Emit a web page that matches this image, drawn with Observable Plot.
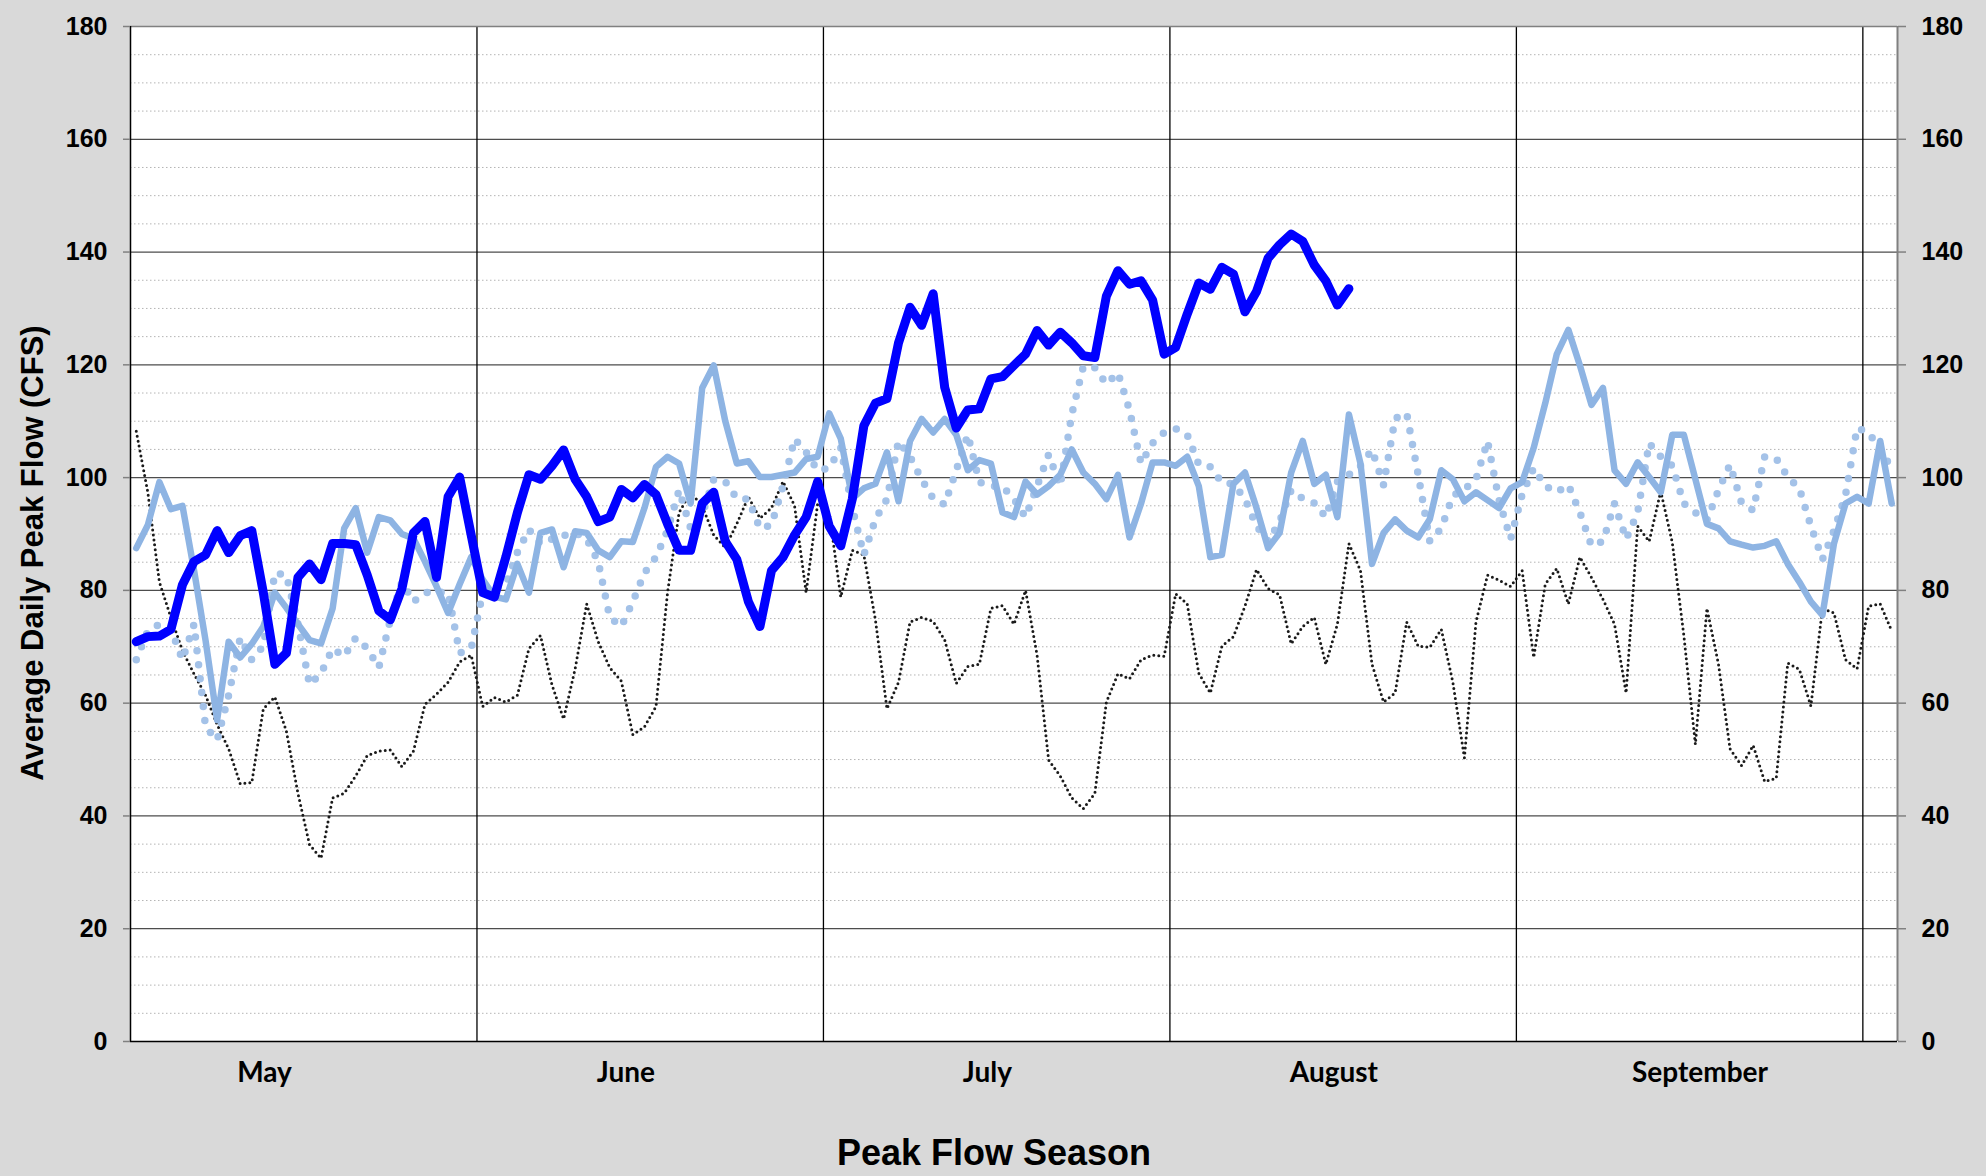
<!DOCTYPE html>
<html><head><meta charset="utf-8">
<script src="https://cdn.jsdelivr.net/npm/d3@7"></script>
<script src="https://cdn.jsdelivr.net/npm/@observablehq/plot@0.6"></script>
<style>
body{margin:0;background:#D9D9D9;width:1986px;height:1176px;position:relative;overflow:hidden;font-family:"Liberation Sans",Arial,sans-serif;}
#chart{position:absolute;left:0;top:0;}
.ytitle{position:absolute;left:33px;top:553px;transform:translate(-50%,-50%) rotate(-90deg);font-weight:bold;font-size:31px;white-space:nowrap;color:#000;}
.xtitle{position:absolute;left:0;width:1988px;top:1135px;text-align:center;font-weight:bold;font-size:36px;line-height:36px;color:#000;}
</style></head><body>
<div id="chart"></div>
<div class="ytitle">Average Daily Peak Flow (CFS)</div>
<div class="xtitle">Peak Flow Season</div>
<script>
// Number of daily categories on the x axis (day slots)
const dayCount = 153;
// Month labels and the day position they are centred on
const monthNames = ["May", "June", "July", "August", "September"];
const monthLabelDays = [11.6, 42.9, 74.2, 104.2, 135.9];
// Vertical gridlines every 30 day slots
const monthLines = [30, 60, 90, 120, 150];
// Y ticks
const majorTicks = [0, 20, 40, 60, 80, 100, 120, 140, 160, 180];
const minorTicks = d3.range(5, 180, 5).filter(d => d % 20 !== 0);

// Current season (thick dark blue)
const currentYear = [70.9,71.8,71.9,73.1,81.0,85.1,86.3,90.6,86.7,89.7,90.6,79.6,66.9,68.9,82.3,84.7,81.9,88.3,88.3,88.1,
82.7,76.4,74.8,80.3,90.2,92.2,82.3,96.6,100.1,89.8,79.6,78.8,85.9,93.8,100.5,99.7,102.1,104.9,99.7,96.6,
92.2,93.0,97.9,96.4,98.8,97.0,91.8,87.1,87.1,95.4,97.4,88.7,85.5,78.0,73.6,83.5,85.9,89.8,93.0,99.3,
91.4,87.9,96.2,109.2,113.2,114.0,123.9,130.2,127.0,132.6,116.0,108.8,112.0,112.2,117.5,117.9,119.9,121.9,126.1,123.5,
125.8,123.9,121.6,121.3,132.2,136.7,134.3,134.9,131.5,121.9,123.1,129.0,134.5,133.4,137.3,136.1,129.4,133.0,138.9,141.3,
143.2,141.9,137.7,134.9,130.6,133.5];

// Light blue solid series
const seriesSolid = [87.5,91.6,99.2,94.4,95.0,83.6,71.1,57.0,70.9,68.1,70.5,73.6,79.6,76.9,74.0,71.2,70.6,76.8,91.0,94.6,
86.7,93.0,92.4,90.0,89.2,85.1,80.7,76.0,81.1,85.9,81.9,78.9,78.4,84.7,79.6,90.2,90.8,84.1,90.5,90.2,
87.1,85.9,88.7,88.6,94.6,101.9,103.7,102.5,95.4,115.9,119.9,110.0,102.5,102.9,100.1,100.1,100.5,100.9,103.3,103.7,
111.4,106.9,96.3,98.1,98.9,104.5,95.8,106.5,110.4,108.0,110.4,107.6,101.3,103.1,102.5,93.8,93.0,99.3,97.0,98.5,
100.5,105.0,100.9,98.9,96.2,100.5,89.4,95.4,102.7,102.7,102.1,103.7,98.5,85.9,86.3,98.9,100.9,94.6,87.5,90.2,
100.9,106.5,98.9,100.5,93.0,111.2,102.5,84.7,90.2,92.6,90.6,89.4,92.6,101.3,99.7,95.8,97.4,96.0,94.6,98.1,
99.2,105.3,113.2,121.9,126.2,119.9,112.9,115.9,101.3,98.9,102.7,100.1,97.4,107.6,107.6,99.7,91.8,91.0,88.7,88.1,
87.6,87.9,88.7,84.7,81.5,78.0,75.6,88.3,95.4,96.6,95.4,106.5,95.4];

// Light blue round-dot series
const seriesDotted = [67.7,72.8,74.0,73.2,67.7,74.0,55.8,53.4,61.4,71.6,67.7,70.1,83.1,82.7,74.0,63.3,65.3,69.7,68.3,71.6,
69.7,66.3,74.8,81.5,78.0,79.6,79.7,79.6,68.9,69.7,79.6,80.3,81.1,86.7,90.8,88.3,89.1,89.7,90.2,89.1,
85.1,75.2,73.6,78.0,83.1,85.9,90.6,97.8,91.0,93.4,99.7,99.3,96.3,96.2,91.0,91.6,98.5,106.9,104.5,101.3,
101.7,105.3,94.6,86.3,92.6,96.2,106.5,103.7,99.7,96.3,95.2,101.3,107.6,99.2,98.5,98.4,96.2,93.0,98.5,104.1,
98.5,111.2,119.7,119.5,116.6,118.6,112.0,102.5,106.1,108.0,108.7,107.6,102.3,101.9,99.1,98.9,96.2,91.4,88.7,92.2,
97.8,96.3,95.5,93.0,99.3,100.5,102.1,104.9,98.7,110.5,111.4,100.5,88.7,91.0,96.8,97.9,99.7,106.5,96.0,89.1,
97.0,101.7,98.5,97.4,98.7,93.8,87.9,88.7,95.4,89.1,93.8,106.1,103.7,102.1,95.4,93.8,92.4,97.8,102.3,95.5,
94.2,103.7,103.4,100.1,98.1,91.4,85.5,90.6,96.9,108.8,108.0,104.9,101.7];

// Black dotted series
const seriesBlack = [108.2,97.4,81.5,75.2,69.3,65.2,61.4,56.2,51.9,45.7,45.9,59.0,61.1,55.0,44.0,34.9,32.5,43.2,44.0,47.1,
50.7,51.5,51.7,48.7,51.5,59.8,61.6,63.7,67.3,68.5,59.4,61.0,60.2,61.4,69.7,72.0,63.2,57.2,66.1,77.6,
70.9,66.3,63.9,54.4,55.8,59.4,79.6,93.8,97.4,95.0,89.8,87.6,91.8,96.6,92.8,94.6,99.3,95.0,79.6,95.4,
93.8,78.8,87.1,86.3,74.8,59.0,63.7,74.4,75.2,74.5,71.2,63.5,66.5,66.9,76.8,77.3,74.0,80.0,68.5,49.9,
47.1,43.2,41.3,44.0,60.2,65.2,64.3,67.7,68.5,68.3,79.4,77.6,65.3,61.8,70.1,71.8,77.2,83.7,80.3,79.2,
70.5,73.6,75.2,66.9,74.0,88.3,83.5,66.9,60.2,61.8,74.4,70.1,69.9,73.1,63.7,50.3,74.4,82.7,81.8,80.7,
83.5,68.1,81.1,83.9,77.6,85.9,82.3,78.4,74.0,61.8,91.4,88.7,97.6,88.5,72.0,52.7,76.8,66.9,51.9,48.9,
52.5,46.1,46.7,67.1,66.0,59.5,76.8,76.0,67.7,66.1,77.2,77.6,72.8];

// Each value sits in the middle of its day slot
const rows = arr => arr.map((v, i) => ({day: i + 0.5, flow: v}));
const labelByDay = new Map(monthLabelDays.map((d, i) => [d, monthNames[i]]));

const chart = Plot.plot({
  width: 1986,
  height: 1110,
  marginLeft: 130,
  marginRight: 89,
  marginTop: 26,
  marginBottom: 69,
  style: {background: "transparent", fontFamily: "'Liberation Sans', Arial, sans-serif", color: "#000", overflow: "visible"},
  x: {domain: [0, dayCount], axis: null},
  y: {domain: [0, 180], axis: null},
  marks: [
    Plot.frame({fill: "white", stroke: null}),
    Plot.ruleY(minorTicks, {stroke: "#b4b4b4", strokeWidth: 1, strokeDasharray: "1.5,2.5"}),
    Plot.ruleY(majorTicks.filter(d => d > 0 && d < 180), {stroke: "#4d4d4d", strokeWidth: 1.2}),
    Plot.ruleX(monthLines, {stroke: "#000", strokeWidth: 1.3}),
    Plot.ruleY([180], {stroke: "#808080", strokeWidth: 1.5}),
    Plot.ruleX([dayCount], {stroke: "#808080", strokeWidth: 2}),
    Plot.ruleX([0], {stroke: "#000", strokeWidth: 1.5}),
    Plot.ruleY([0], {stroke: "#000", strokeWidth: 1.6}),
    Plot.axisY(majorTicks, {anchor: "left", tickSize: 7, tickPadding: 16, stroke: "#808080", strokeWidth: 1.5, fill: "#000",
      fontSize: 25, fontWeight: "bold", label: null, tickFormat: d => String(d)}),
    Plot.axisY(majorTicks, {anchor: "right", tickSize: 8, tickPadding: 16, stroke: "#808080", strokeWidth: 1.5, fill: "#000",
      fontSize: 25, fontWeight: "bold", label: null, tickFormat: d => String(d)}),
    Plot.axisX(monthLabelDays, {anchor: "bottom", tickSize: 0, tickPadding: 21, fill: "#000",
      fontSize: 28, fontWeight: "bold", fontFamily: "Lato, 'Open Sans', sans-serif", label: null,
      tickFormat: d => labelByDay.get(d)}),
    Plot.line(rows(seriesBlack), {x: "day", y: "flow", stroke: "#1a1a1a", strokeWidth: 3,
      strokeDasharray: "0,5", strokeLinecap: "round", strokeLinejoin: "round"}),
    Plot.line(rows(seriesDotted), {x: "day", y: "flow", stroke: "#a4c2e8", strokeWidth: 7.5,
      strokeDasharray: "0,14", strokeLinecap: "round", strokeLinejoin: "round"}),
    Plot.line(rows(seriesSolid), {x: "day", y: "flow", stroke: "#8eb4e3", strokeWidth: 6.5,
      strokeLinecap: "round", strokeLinejoin: "round"}),
    Plot.line(rows(currentYear), {x: "day", y: "flow", stroke: "#0000ff", strokeWidth: 9,
      strokeLinecap: "round", strokeLinejoin: "round"})
  ]
});
document.getElementById("chart").appendChild(chart);
</script>
</body></html>
